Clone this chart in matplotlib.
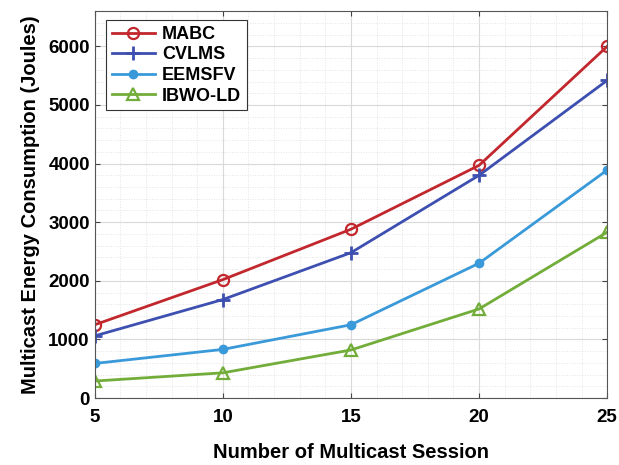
import matplotlib.pyplot as plt
from matplotlib.ticker import MultipleLocator

plt.rcParams['font.family'] = ['Liberation Sans', 'DejaVu Sans']
plt.rcParams['font.weight'] = 'bold'

sessions = [5, 10, 15, 20, 25]
mabc = [1250, 2020, 2880, 3970, 6000]
cvlms = [1060, 1680, 2480, 3800, 5420]
eemsfv = [590, 830, 1250, 2300, 3890]
ibwo_ld = [290, 430, 820, 1520, 2830]

fig = plt.figure(figsize=(6.19, 4.65), dpi=100)
ax = fig.add_axes([0.153, 0.144, 0.828, 0.832])

ax.plot(sessions, mabc, color='#c1272d', marker='o', mfc='none', ms=8, mew=1.6, lw=2, label='MABC')
ax.plot(sessions, cvlms, color='#3d4fb0', marker='+', ms=10, mew=2, lw=2, label='CVLMS')
ax.plot(sessions, eemsfv, color='#3a9ad9', marker='o', ms=6, lw=2, label='EEMSFV')
ax.plot(sessions, ibwo_ld, color='#72ad3a', marker='^', mfc='none', ms=9, mew=1.6, lw=2, label='IBWO-LD')

ax.set_xlim(5, 25)
ax.set_ylim(0, 6600)
ax.xaxis.set_major_locator(MultipleLocator(5))
ax.xaxis.set_minor_locator(MultipleLocator(1))
ax.yaxis.set_major_locator(MultipleLocator(1000))
ax.yaxis.set_minor_locator(MultipleLocator(200))
ax.grid(which='major', color='#d9d9d9', lw=0.8)
ax.grid(which='minor', color='#e3e3e3', lw=0.7, ls=':')
ax.tick_params(which='both', direction='in', top=True, right=True, labelsize=13.5, color='#444444')
ax.tick_params(which='minor', length=0)
ax.tick_params(axis='x', pad=8)
for s in ax.spines.values():
    s.set_color('#555555')

ax.set_xlabel('Number of Multicast Session', fontsize=14.5, fontweight='bold', labelpad=12)
ax.set_ylabel('Multicast Energy Consumption (Joules)', fontsize=14.5, fontweight='bold', labelpad=6)

leg = ax.legend(loc='upper left', bbox_to_anchor=(0.012, 0.99), fontsize=13, handlelength=2.4,
                fancybox=False, edgecolor='#333333', framealpha=1, borderpad=0.3, labelspacing=0.2,
                handletextpad=0.4, borderaxespad=0.3)
leg.get_frame().set_linewidth(0.8)

fig.savefig('out.png', dpi=100)
